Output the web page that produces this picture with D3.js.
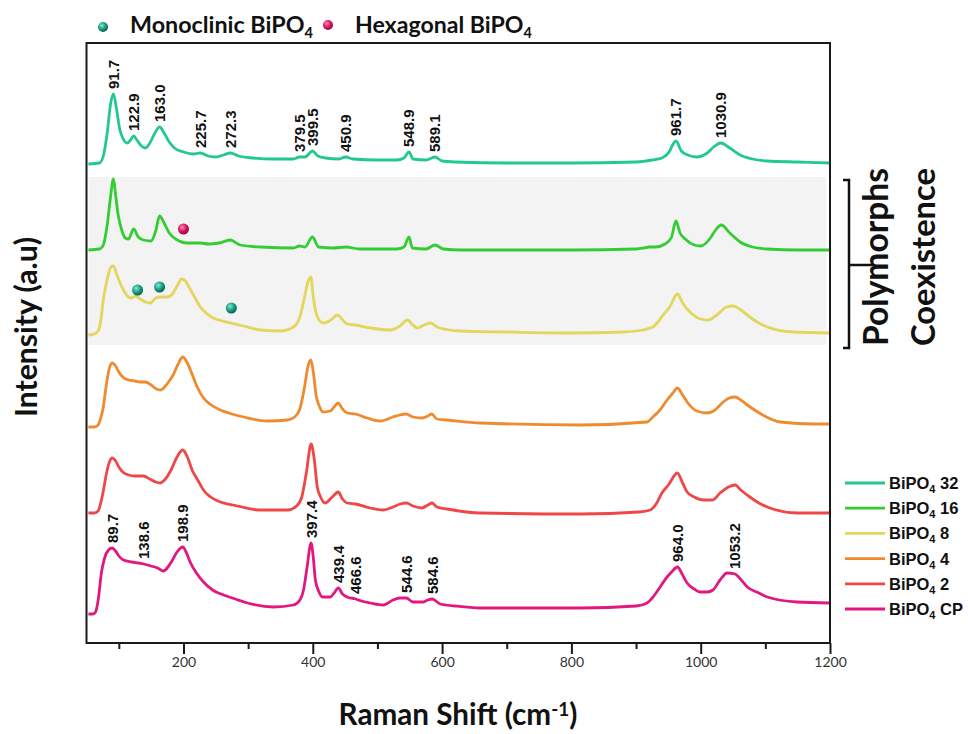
<!DOCTYPE html>
<html><head><meta charset="utf-8">
<script src="https://cdn.jsdelivr.net/npm/d3@7"></script>
<style>body{margin:0;background:#fff}svg{display:block}</style>
</head><body>
<svg id="chart" width="968" height="734"></svg>
<script>
// ---------- data ----------
const xTickLabels = [200, 400, 600, 800, 1000, 1200];
const xMinorTicks = [100, 300, 500, 700, 900, 1100];
const seriesLabels = ["BiPO4 32", "BiPO4 16", "BiPO4 8", "BiPO4 4", "BiPO4 2", "BiPO4 CP"];

// [Raman shift (cm-1), stacked intensity (a.u.)]
const s32 = [[53,479],[70,480],[76,487],[82,510],[87,538],[91.7,549],[96,536],[101,515],[106,505],[113,500],[118,503],[122.9,507],[128,503],[135,497],[141,495],[148,500],[155,509],[163,516],[170,510],[178,501],[186,495],[200,491],[215,489],[225.7,490],[238,487],[250,486],[262,488],[272.3,490],[285,487],[308,485],[340,484],[370,484],[379.5,486],[388,486],[399.5,492],[408,487],[420,485],[440,484],[450.9,486],[462,484],[500,483],[530,483],[541,485],[548.9,491],[555,484],[575,483],[589.1,486],[600,482],[620,481],[700,480],[800,480],[900,481],[915,482],[925,483],[940,485],[950,490],[961.7,502],[970,492],[980,488],[994,486],[1010,490],[1020,496],[1030.9,500],[1045,495],[1061,488],[1080,484],[1103,482],[1150,481],[1200,480]];
const s16 = [[53,393],[70,394],[76,398],[82,418],[87,445],[91.7,464],[95,448],[99,428],[104,414],[110,405],[115,404],[122.9,414],[130,406],[138,403],[150,402],[157,412],[163,427],[170,420],[178,410],[188,404],[206,400],[226,400],[239,399],[255,400],[272.3,403],[288,398],[319,396],[370,395],[379.5,397],[388,396],[399.5,406],[409,396],[432,395],[450.9,396],[473,394],[530,394],[541,396],[548.9,406],[554,395],[575,394],[589.1,398],[602,394],[628,393],[800,393],[900,394],[912,395],[920,396],[930,396],[945,399],[955,406],[961.7,422],[968,410],[976,404],[990,398],[1000,397],[1015,405],[1022,412],[1032,418],[1045,410],[1061,401],[1080,396],[1103,394],[1150,393],[1200,393]];
const s8 = [[53,308],[62,309],[68,312],[72,322],[76,343],[82,364],[88,376],[91.7,377],[96,370],[102,360],[108,352],[115,346],[120,345],[126,347],[133,344],[141,341],[149,340],[157,345],[164,346],[175,346],[183,349],[191,358],[197,364],[203,362],[211,353],[218,345],[226,336],[235,330],[246,325],[260,322],[273,320],[293,317],[319,313],[350,312],[370,316],[380,326],[387,345],[393,362],[397,366],[401,345],[406,328],[416,320],[428,323],[438,328],[445,324],[453,319],[466,318],[489,315],[520,313],[535,317],[546,323],[555,318],[562,315],[572,318],[582,320],[590,317],[597,315],[628,312],[700,311],[800,310],[880,311],[910,313],[926,316],[942,328],[952,336],[964,349],[972,340],[985,330],[1000,324],[1012,323],[1025,328],[1040,336],[1050,337],[1060,334],[1076,326],[1090,320],[1103,316],[1143,311],[1200,310]];
const s4 = [[53,216],[62,216],[68,218],[72,225],[76,236],[80,255],[85,274],[89.7,280],[95,277],[100,271],[106,266],[115,263],[125,262],[133,261],[141,261],[150,258],[158,254],[165,253],[172,257],[178,262],[184,268],[191,278],[198.9,286],[206,280],[215,266],[222,255],[231,245],[243,238],[257,233],[275,229],[293,226],[330,222],[361,223],[372,226],[380,234],[387,255],[393,278],[397,283],[401,270],[405,248],[410,237],[416,231],[427,232],[433,236],[439,240],[446,234],[453,230],[466,229],[484,225],[504,222],[524,226],[535,228],[544,229],[555,226],[569,225],[578,227],[584,229],[592,224],[608,223],[659,220],[814,218],[917,221],[926,226],[937,233],[948,243],[957,250],[964,255],[972,248],[979,241],[994,232],[1010,230],[1020,232],[1035,241],[1044,245],[1053,246],[1062,243],[1072,238],[1096,228],[1123,221],[1174,219],[1200,219]];
const s2 = [[53,130],[62,130],[68,132],[72,140],[76,152],[81,170],[86,182],[89.7,185],[95,182],[100,176],[106,171],[115,168],[125,167],[138,167],[148,164],[157,161],[164,160],[172,164],[180,172],[190,186],[198.9,193],[206,186],[214,172],[222,163],[232,152],[242,146],[257,141],[277,138],[319,133],[361,133],[375,137],[383,146],[390,170],[397.4,199],[402,185],[407,156],[412,146],[419,140],[430,146],[439.4,151],[446,144],[453,140],[466,139],[489,135],[509,133],[524,136],[535,139],[544.6,140],[555,137],[569,135],[578,138],[584.6,140],[592,136],[608,134],[659,130],[814,129],[905,131],[922,133],[932,140],[940,150],[950,158],[964,170],[972,160],[979,151],[990,146],[1005,143],[1018,143],[1030,150],[1043,156],[1053,158],[1062,153],[1076,146],[1090,140],[1103,136],[1149,130],[1200,130]];
const sCP = [[53,29],[60,29],[64,31],[68.5,45],[73,70],[78,85],[84,93],[89.7,95],[95,92],[100,87],[107,83],[120,81],[130,80],[138.6,79],[150,77],[160,75],[169,72],[176,76],[183,83],[190,91],[198.9,96],[204,91],[211,80],[220,70],[231,61],[245,53],[262,48],[280,44],[299,40],[339,36],[370,38],[380,43],[386,54],[391,75],[397.4,100],[401,84],[404,63],[409,52],[415,46],[427,46],[433,50],[439.4,55],[446,49],[453,46],[466.6,44],[475,42],[489,40],[509,38],[524,43],[535,45],[544.6,45],[555,41],[570,41],[578,43],[584.6,44],[597,39],[620,37],[659,35],[814,35],[900,37],[917,40],[925,45],[932,51],[948,66],[955,71],[964,76],[972,68],[979,60],[990,54],[999,51],[1010,51],[1019,53],[1030,63],[1041,70],[1053.2,69],[1060,65],[1072,56],[1090,50],[1103,46],[1149,41],[1200,40]];

const topPeakLabels = ["91.7","122.9","163.0","225.7","272.3","379.5","399.5","450.9","548.9","589.1","961.7","1030.9"];
const cpPeakLabels = ["89.7","138.6","198.9","397.4","439.4","466.6","544.6","584.6","964.0","1053.2"];

// phase markers [Raman shift, intensity]
const monoclinicMarks = [[129,353],[163,356],[274,335]];
const hexagonalMarks = [[200,414]];

// ---------- styling ----------
const colors = ["#22c98c", "#33cc33", "#e2d65c", "#ef8a2f", "#ef4747", "#e0187f"];
const allSeries = [s32, s16, s8, s4, s2, sCP];
const FONT = "Lato, 'Open Sans', sans-serif";
const ARIAL = "'Liberation Sans', Arial, sans-serif";

const svg = d3.select("#chart");
const x = d3.scaleLinear().domain([50, 1200]).range([86.5, 830]);
const y = d3.scaleLinear().domain([0, 600]).range([643, 43]);

function fit(sel, target) {
  const fs = parseFloat(sel.attr("font-size"));
  const w = sel.node().getComputedTextLength();
  if (w > 0) {
    const k = target / w;
    sel.attr("font-size", fs * k);
    sel.selectAll("tspan").each(function() {
      const t = d3.select(this);
      if (t.attr("font-size")) t.attr("font-size", parseFloat(t.attr("font-size")) * k);
    });
  }
}

// defs: sphere gradients
const defs = svg.append("defs");
function sphere(id, c0, c1, c2) {
  const g = defs.append("radialGradient").attr("id", id).attr("cx", "38%").attr("cy", "35%").attr("r", "65%");
  g.append("stop").attr("offset", "0%").attr("stop-color", c0);
  g.append("stop").attr("offset", "55%").attr("stop-color", c1);
  g.append("stop").attr("offset", "100%").attr("stop-color", c2);
}
sphere("mono", "#8ae6cf", "#1aa386", "#0a5e4d");
sphere("hexa", "#ff8fb8", "#dc1a62", "#8e0b3a");

// grey band (polymorph coexistence)
svg.append("rect")
  .attr("x", x(53)).attr("width", x(1194) - x(53))
  .attr("y", y(466)).attr("height", y(298) - y(466))
  .attr("fill", "#f3f3f3");

// spectra
const line = d3.line().x(d => x(d[0])).y(d => y(d[1])).curve(d3.curveMonotoneX);
svg.append("g").selectAll("path").data(allSeries).join("path")
  .attr("d", line).attr("fill", "none")
  .attr("stroke", (d, i) => colors[i]).attr("stroke-width", 2.8)
  .attr("stroke-linejoin", "round");

// frame
svg.append("rect").attr("x", 86.5).attr("y", 43).attr("width", 830 - 86.5).attr("height", 600)
  .attr("fill", "none").attr("stroke", "#1a1a1a").attr("stroke-width", 2);

// axes
const minorAxis = d3.axisBottom(x).tickValues(xMinorTicks).tickSize(6).tickFormat("");
const majorAxis = d3.axisBottom(x).tickValues(xTickLabels).tickSize(11).tickPadding(3).tickFormat(d3.format("d"));
[minorAxis, majorAxis].forEach(ax => {
  const g = svg.append("g").attr("transform", `translate(0,${y(0)})`).call(ax);
  g.select(".domain").remove();
  g.selectAll(".tick line").attr("stroke", "#1a1a1a").attr("stroke-width", 2);
  g.selectAll(".tick text").attr("font-family", FONT).attr("font-size", 14).attr("fill", "#333");
});

// axis titles
const xt = svg.append("text").attr("x", 458).attr("y", 725).attr("text-anchor", "middle")
  .attr("font-family", FONT).attr("font-weight", 700).attr("font-size", 25).attr("fill", "#111");
xt.append("tspan").text("Raman Shift (cm");
xt.append("tspan").attr("font-size", 16).attr("dy", -9).text("-1");
xt.append("tspan").attr("dy", 9).text(")");
fit(xt, 239);

const yt = svg.append("text").attr("transform", "translate(37,327) rotate(-90)").attr("text-anchor", "middle")
  .attr("font-family", FONT).attr("font-weight", 700).attr("font-size", 26).attr("fill", "#111")
  .text("Intensity (a.u)");
fit(yt, 180);

// peak labels
const bis = d3.bisector(d => d[0]).left;
function valueAt(arr, w) {
  const i = Math.max(1, Math.min(arr.length - 1, bis(arr, w)));
  const a = arr[i - 1], b = arr[i];
  const t = (w - a[0]) / (b[0] - a[0]);
  return a[1] + t * (b[1] - a[1]);
}
function peakLabels(labels, arr) {
  svg.append("g").selectAll("text").data(labels).join("text")
    .attr("transform", d => `translate(${x(+d)},${y(valueAt(arr, +d)) - 5}) rotate(-90)`)
    .attr("dy", "0.36em")
    .attr("font-family", ARIAL).attr("font-weight", 700).attr("font-size", 15).attr("fill", "#111")
    .text(d => d);
}
peakLabels(topPeakLabels, s32);
peakLabels(cpPeakLabels, sCP);

// phase markers
svg.append("g").selectAll("circle").data(monoclinicMarks).join("circle")
  .attr("cx", d => x(d[0])).attr("cy", d => y(d[1])).attr("r", 5.5).attr("fill", "url(#mono)");
svg.append("g").selectAll("circle").data(hexagonalMarks).join("circle")
  .attr("cx", d => x(d[0])).attr("cy", d => y(d[1])).attr("r", 5.5).attr("fill", "url(#hexa)");

// top legend
function bipo(sel, prefix, suffix, subSize, subDy) {
  sel.append("tspan").text(prefix + "BiPO");
  sel.append("tspan").attr("font-size", subSize).attr("dy", subDy).text("4");
  if (suffix) sel.append("tspan").attr("dy", -subDy).text(suffix);
}
svg.append("circle").attr("cx", 103).attr("cy", 27).attr("r", 5).attr("fill", "url(#mono)");
svg.append("circle").attr("cx", 328).attr("cy", 25).attr("r", 5).attr("fill", "url(#hexa)");
const lg1 = svg.append("text").attr("x", 130).attr("y", 33).attr("font-family", FONT).attr("font-weight", 700).attr("font-size", 24).attr("fill", "#111");
bipo(lg1, "Monoclinic ", "", 15, 5);
fit(lg1, 183);
const lg2 = svg.append("text").attr("x", 355).attr("y", 33).attr("font-family", FONT).attr("font-weight", 700).attr("font-size", 24).attr("fill", "#111");
bipo(lg2, "Hexagonal ", "", 15, 5);
fit(lg2, 177);

// right legend
const leg = svg.append("g").selectAll("g").data(seriesLabels).join("g")
  .attr("transform", (d, i) => `translate(0,${483 + i * 25.2})`);
leg.append("line").attr("x1", 845).attr("x2", 885).attr("stroke", (d, i) => colors[i]).attr("stroke-width", 2.8);
leg.each(function(d) {
  const t = d3.select(this).append("text").attr("x", 889).attr("y", 6)
    .attr("font-family", ARIAL).attr("font-weight", 700).attr("font-size", 16.5).attr("fill", "#111");
  bipo(t, "", d.replace("BiPO4", ""), 11, 4);
});

// bracket + text
svg.append("path").attr("d", "M843,180H849V348H843M849,265H873")
  .attr("fill", "none").attr("stroke", "#111").attr("stroke-width", 2.5);
const p1 = svg.append("text").attr("transform", "translate(888,257) rotate(-90)").attr("text-anchor", "middle")
  .attr("font-family", FONT).attr("font-weight", 700).attr("font-size", 31).attr("fill", "#111").text("Polymorphs");
fit(p1, 178);
const p2 = svg.append("text").attr("transform", "translate(935,257) rotate(-90)").attr("text-anchor", "middle")
  .attr("font-family", FONT).attr("font-weight", 700).attr("font-size", 31).attr("fill", "#111").text("Coexistence");
fit(p2, 178);
</script>
</body></html>
